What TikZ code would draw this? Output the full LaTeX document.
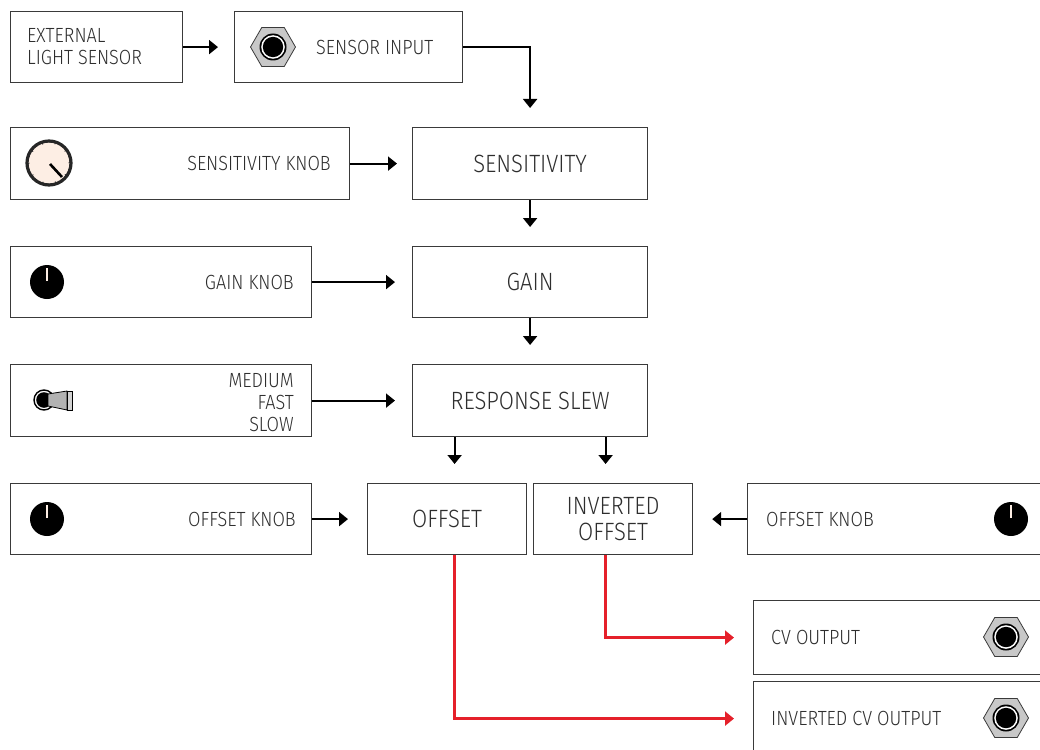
\documentclass[tikz,border=0pt]{standalone}
\usepackage{fontspec}
\setmainfont{Fira Sans Light}[FakeStretch=0.88]
\usetikzlibrary{arrows.meta,decorations.pathmorphing,calc}
\definecolor{boxc}{HTML}{3A3A3A}
\definecolor{txtc}{HTML}{2E2E2E}
\definecolor{hexg}{HTML}{C8C8C8}
\definecolor{peach}{HTML}{FDEEE4}
\definecolor{redl}{HTML}{E5202A}
\newcommand\smallfnt{\fontsize{20.5}{22}\selectfont}
\newcommand\bigfnt{\fontsize{25}{26}\selectfont}
\newcommand\myjack[1]{%
  \begin{scope}[shift={#1}]
    \filldraw[fill=hexg,draw=boxc,line width=0.8pt] (0:22.5pt) -- (60:22.5pt) -- (120:22.5pt) -- (180:22.5pt) -- (240:22.5pt) -- (300:22.5pt) -- cycle;
    \fill[black] (0,0) circle (13.5pt);
    \fill[white] (0,0) circle (11.8pt);
    \fill[black] (0,0) circle (10.2pt);
  \end{scope}}
\newcommand\blackknob[1]{%
  \begin{scope}[shift={#1}]
    \fill[black] (0,0) circle (17pt);
    \draw[peach,line width=2pt] (0,-1) -- (0,-14);
  \end{scope}}
\begin{document}
\begin{tikzpicture}[x=1pt,y=-1pt,
  box/.style={draw=boxc,line width=1.2pt,fill=white,inner sep=0pt,anchor=north west},
  lbl/.style={text=txtc,font=\smallfnt,inner sep=0pt},
  big/.style={text=txtc,font=\bigfnt,inner sep=0pt,align=center},
  arr/.style={line width=2pt,-{Triangle[length=9pt,width=14pt]},shorten >=19pt},
  redarr/.style={redl,line width=2.5pt,-{Triangle[length=9pt,width=14pt]},shorten >=19pt}]
\useasboundingbox (0,0) rectangle (1040,749);
\fill[white] (0,0) rectangle (1040,749);
\clip (0,0) rectangle (1040,749);

% boxes
\node[box,minimum width=172pt,minimum height=71pt] (ext) at (10,11) {};
\node[box,minimum width=228pt,minimum height=71pt] (sin) at (234,11) {};
\node[box,minimum width=339pt,minimum height=72pt] (sk) at (10,127) {};
\node[box,minimum width=235pt,minimum height=72pt] (sens) at (412,127) {};
\node[box,minimum width=301pt,minimum height=71pt] (gk) at (10,246) {};
\node[box,minimum width=235pt,minimum height=71pt] (gain) at (412,246) {};
\node[box,minimum width=301pt,minimum height=72pt] (sw) at (10,364) {};
\node[box,minimum width=235pt,minimum height=72pt] (slew) at (412,364) {};
\node[box,minimum width=301pt,minimum height=71pt] (okl) at (10,483) {};
\node[box,minimum width=159pt,minimum height=71pt] (off) at (367,483) {};
\node[box,minimum width=159pt,minimum height=71pt] (inv) at (533,483) {};
\node[box,minimum width=320pt,minimum height=71pt] (okr) at (747,483) {};
\node[box,minimum width=320pt,minimum height=74pt] (cv) at (753,600) {};
\node[box,minimum width=320pt,minimum height=74pt] (icv) at (753,681) {};

% texts
\node[lbl,anchor=west,align=left] (t1) at (27,47) {EXTERNAL\\LIGHT SENSOR};
\node[lbl,anchor=west] (t2) at (316,47) {SENSOR INPUT};
\node[lbl,anchor=east] (t3) at (331,163) {SENSITIVITY KNOB};
\node[big] (t4) at (sens) {SENSITIVITY};
\node[lbl,anchor=east] (t5) at (294,282) {GAIN KNOB};
\node[big] (t6) at (gain) {GAIN};
\node[lbl,anchor=east,align=right] (t7) at (294,403) {MEDIUM\\FAST\\SLOW};
\node[big] (t8) at (slew) {RESPONSE SLEW};
\node[lbl,anchor=east] (t9) at (296,519) {OFFSET KNOB};
\node[big] (t10) at (off) {OFFSET};
\node[big] (t11) at (inv) {INVERTED\\OFFSET};
\node[lbl,anchor=west] (t12) at (766,519) {OFFSET KNOB};
\node[lbl,anchor=west] (t13) at (771,637) {CV OUTPUT};
\node[lbl,anchor=west] (t14) at (771,718) {INVERTED CV OUTPUT};

% icons
\myjack{(273,47)}
\myjack{(1006,637)}
\myjack{(1006,718)}
% sensitivity knob
\fill[peach] (49,163) circle (22pt);
\foreach \a in {0,36,...,324}{
  \draw[black!70,line width=0.9pt] ([shift={(\a:19.5pt)}]49,163) arc[start angle=\a-90,end angle=\a+90,radius=3.2pt];
}
\draw[black!85,line width=3.2pt] (49,163) circle (22pt);
\draw[black,line width=2.6pt] (50,164) -- (62,177);
% gain / offset knobs
\blackknob{(47,282)}
\blackknob{(47,519)}
\blackknob{(1011,519)}
% toggle switch
\draw[black,line width=1.4pt,fill=white] (44,400) circle (10pt);
\fill[black] (44,400) circle (7.8pt);
\filldraw[fill=gray!60,draw=black,line width=0.8pt] (48,394) -- (67,391) -- (67,410) -- (48,406) -- cycle;
\filldraw[fill=gray!35,draw=black,line width=0.8pt] (67,391) rectangle (72,410);

% connectors
\coordinate (la) at ([xshift=-75.5pt]slew.south);
\coordinate (ra) at ([xshift=75.5pt]slew.south);
\draw[arr,shorten >=16pt] (ext.east) -- (sin.west);
\draw[arr] (sin.east) -| (sens.north);
\draw[arr,shorten >=15pt] (sk.east) -- (sens.west);
\draw[arr] (sens.south) -- (gain.north);
\draw[arr,shorten >=17pt] (gk.east) -- (gain.west);
\draw[arr] (gain.south) -- (slew.north);
\draw[arr,shorten >=17pt] (sw.east) -- (sw.east -| slew.west);
\draw[arr] (la) -- (la |- off.north);
\draw[arr] (ra) -- (ra |- inv.north);
\draw[arr] (okl.east) -- (off.west);
\draw[arr] (okr.west) -- (inv.east);
\draw[redarr] (ra |- inv.south) |- (cv.west);
\draw[redarr] (la |- off.south) |- (icv.west);
\end{tikzpicture}
\end{document}
